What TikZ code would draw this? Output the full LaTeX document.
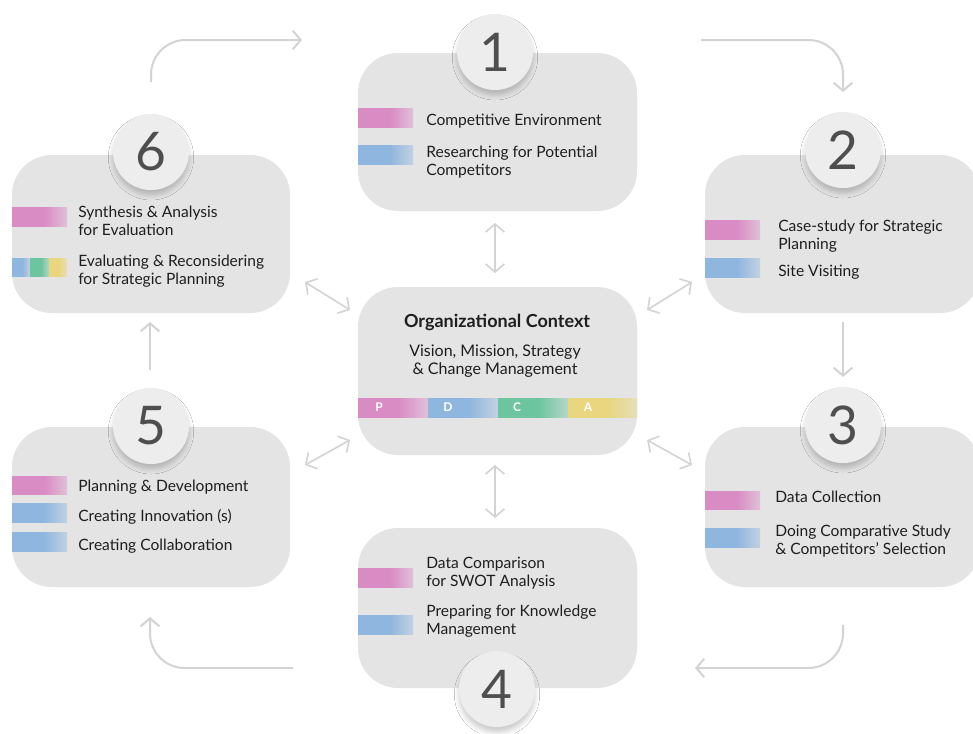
\documentclass[tikz,border=0pt]{standalone}
\usepackage{fontspec}
\setmainfont{Lato}
\usetikzlibrary{fit,arrows.meta,shadows.blur}
\definecolor{boxgray}{HTML}{E4E4E4}
\definecolor{circlegray}{HTML}{EDEDED}
\definecolor{arrowgray}{HTML}{D3D3D3}
\definecolor{pinkc}{HTML}{D98BC4}
\definecolor{bluec}{HTML}{8FB6DE}
\definecolor{greenc}{HTML}{6CC59E}
\definecolor{yellowc}{HTML}{E9D67E}
\definecolor{textc}{HTML}{1E1E1E}
\definecolor{digitc}{HTML}{4E4E4E}
\colorlet{pinkl}{pinkc!40!boxgray}
\colorlet{bluel}{bluec!40!boxgray}
\colorlet{greenl}{greenc!40!boxgray}
\colorlet{yellowl}{yellowc!40!boxgray}
\pgfdeclarehorizontalshading{pinkfade}{100bp}{color(0bp)=(pinkc); color(25bp)=(pinkc); color(54bp)=(pinkc); color(75bp)=(pinkl); color(100bp)=(pinkl)}
\pgfdeclarehorizontalshading{bluefade}{100bp}{color(0bp)=(bluec); color(25bp)=(bluec); color(54bp)=(bluec); color(75bp)=(bluel); color(100bp)=(bluel)}
\pgfdeclarehorizontalshading{greenfade}{100bp}{color(0bp)=(greenc); color(25bp)=(greenc); color(54bp)=(greenc); color(75bp)=(greenl); color(100bp)=(greenl)}
\pgfdeclarehorizontalshading{yellowfade}{100bp}{color(0bp)=(yellowc); color(25bp)=(yellowc); color(54bp)=(yellowc); color(75bp)=(yellowl); color(100bp)=(yellowl)}
\tikzset{
  box/.style={rectangle, fill=boxgray, rounded corners=30pt, inner sep=0pt},
  circ/.style={circle, fill=circlegray, minimum size=57pt, inner sep=0pt,
    blur shadow={shadow xshift=0pt, shadow yshift=-4pt, shadow blur radius=3.5pt, shadow opacity=20},
    font=\fontsize{40}{40}\selectfont, text=digitc},
  txt/.style={anchor=west, align=left, inner sep=0pt, text=textc,
    font=\fontsize{11.7}{13.3}\selectfont},
  conn/.style={draw=arrowgray, line width=1.5pt, -{Straight Barb[length=6pt,width=14pt,line width=1.5pt]}},
  dconn/.style={draw=arrowgray, line width=1.2pt, {Straight Barb[length=6pt,width=14pt,line width=1.2pt]}-{Straight Barb[length=6pt,width=14pt,line width=1.2pt]}},
  pdca/.style={text=white, font=\fontsize{9}{9}\selectfont\bfseries, inner sep=0pt}
}
\newcommand{\gbar}[3]{\shade[shading=#1fade] #2 rectangle #3;}
\begin{document}
\begin{tikzpicture}[x=0.75pt,y=-0.75pt]
\useasboundingbox (0,0) rectangle (973,733);
\fill[white] (0,0) rectangle (973,733);

% boxes
\node[box, fit={(358,53) (637,211)}] (b1) {};
\node[box, fit={(12,155) (290,313)}] (b6) {};
\node[box, fit={(705,155) (980,313)}] (b2) {};
\node[box, fit={(358,287) (637,455)}] (bc) {};
\node[box, fit={(12,427) (290,587)}] (b5) {};
\node[box, fit={(705,427) (980,587)}] (b3) {};
\node[box, fit={(358,528) (637,688)}] (b4) {};

% bars box 1
\gbar{pink}{(358,108)}{(413,127)}
\gbar{blue}{(358,145)}{(413,164)}
% box 6
\gbar{pink}{(12,207)}{(67,226)}
\gbar{blue}{(12,258)}{(30,276)}
\gbar{green}{(30,258)}{(49,276)}
\gbar{yellow}{(49,258)}{(67,276)}
% box 2
\gbar{pink}{(705,220)}{(760,239)}
\gbar{blue}{(705,258)}{(760,277)}
% box 3
\gbar{pink}{(705,491)}{(760,509)}
\gbar{blue}{(705,528)}{(760,547)}
% box 4
\gbar{pink}{(358,568)}{(413,587)}
\gbar{blue}{(358,615)}{(413,634)}
% box 5
\gbar{pink}{(12,476)}{(67,494)}
\gbar{blue}{(12,503)}{(67,522)}
\gbar{blue}{(12,532)}{(67,551)}
% PDCA
\gbar{pink}{(358,398)}{(428,417)}
\gbar{blue}{(428,398)}{(498,417)}
\gbar{green}{(498,398)}{(568,417)}
\gbar{yellow}{(568,398)}{(637,417)}
\node[pdca] (pP) at (379,407.5) {P};
\node[pdca] (pD) at (448,407.5) {D};
\node[pdca] (pC) at (517,407.5) {C};
\node[pdca] (pA) at (588,407.5) {A};

% circles
\node[circ] (c1) at (495,52) {1};
\node[circ] (c6) at (151,152) {6};
\node[circ] (c2) at (843,150) {2};
\node[circ] (c5) at (151,426) {5};
\node[circ] (c3) at (843,425) {3};
\node[circ] (c4) at (497,689) {4};

% texts
\node[txt] (t1a) at (426,121) {Competitive Environment};
\node[txt] (t1b) at (426,162) {Researching for Potential\\Competitors};
\node[txt] (t6a) at (78,221) {Synthesis \& Analysis\\for Evaluation};
\node[txt] (t6b) at (78,271) {Evaluating \& Reconsidering\\for Strategic Planning};
\node[txt] (t2a) at (778,236) {Case-study for Strategic\\Planning};
\node[txt] (t2b) at (778,272) {Site Visiting};
\node[txt] (t3a) at (775,497) {Data Collection};
\node[txt] (t3b) at (775,541) {Doing Comparative Study\\\& Competitors’ Selection};
\node[txt] (t4a) at (426,573) {Data Comparison\\for SWOT Analysis};
\node[txt] (t4b) at (426,621) {Preparing for Knowledge\\Management};
\node[txt] (t5a) at (78,487) {Planning \& Development};
\node[txt] (t5b) at (78,517) {Creating Innovation (s)};
\node[txt] (t5c) at (78,546) {Creating Collaboration};
\node[inner sep=0pt, text=textc, font=\fontsize{13.5}{15}\selectfont\bfseries] (tc) at (497,322) {Organizational Context};
\node[inner sep=0pt, text=textc, align=center, font=\fontsize{12}{13.5}\selectfont] (tcs) at (495,361) {Vision, Mission, Strategy\\\& Change Management};

% connector coordinates
\coordinate (a1s) at (151,82);  \coordinate (a1e) at (302,40);
\coordinate (a2s) at (701,40);  \coordinate (a2e) at (843,92);
\coordinate (a3s) at (843,322); \coordinate (a3e) at (843,377);
\coordinate (a4s) at (843,625); \coordinate (a4e) at (695,668);
\coordinate (a5s) at (293,668); \coordinate (a5e) at (150,617);
\coordinate (a6s) at (150,370); \coordinate (a6e) at (150,322);
\coordinate (d1s) at (495,223); \coordinate (d1e) at (495,273);
\coordinate (d4s) at (495,465); \coordinate (d4e) at (495,518);
\coordinate (d6s) at (305,282); \coordinate (d6e) at (350,310);
\coordinate (d2s) at (647,310); \coordinate (d2e) at (692,282);
\coordinate (d5s) at (305,465); \coordinate (d5e) at (350,440);
\coordinate (d3s) at (647,440); \coordinate (d3e) at (692,465);

\draw[conn, rounded corners=26pt] (a1s) |- (a1e);
\draw[conn, rounded corners=26pt] (a2s) -| (a2e);
\draw[conn] (a3s) -- (a3e);
\draw[conn, rounded corners=26pt] (a4s) |- (a4e);
\draw[conn, rounded corners=26pt] (a5s) -| (a5e);
\draw[conn] (a6s) -- (a6e);
\draw[dconn] (d1s) -- (d1e);
\draw[dconn] (d4s) -- (d4e);
\draw[dconn] (d6s) -- (d6e);
\draw[dconn] (d2s) -- (d2e);
\draw[dconn] (d5s) -- (d5e);
\draw[dconn] (d3s) -- (d3e);
\end{tikzpicture}
\end{document}
